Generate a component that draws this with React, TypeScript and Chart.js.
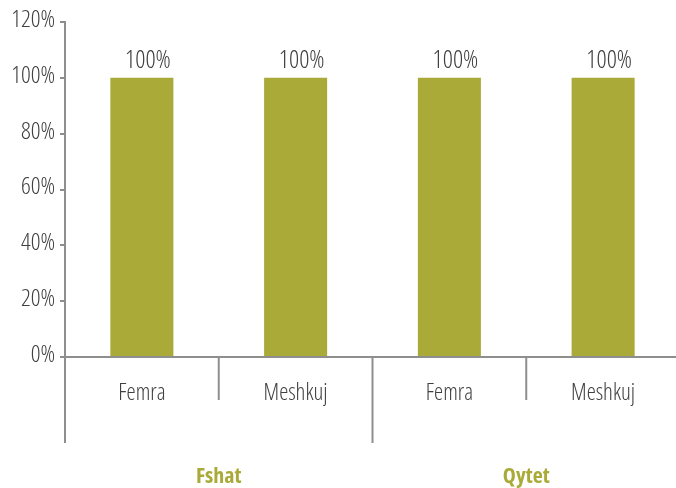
import React, { useEffect, useRef } from "react";
import { Chart, registerables } from "chart.js";

Chart.register(...registerables);

const categories = ["Femra", "Meshkuj", "Femra", "Meshkuj"];
const values = [100, 100, 100, 100];
const groups = ["Fshat", "Qytet"];
const groupSize = 2;

const OLIVE = "#a9aa38";
const AXIS = "#8e8e8e";
const TEXT = "#404040";
const FONT = "'Open Sans', 'DejaVu Sans Condensed', sans-serif";

const overlay = {
  id: "overlay",
  afterDraw(chart: any) {
    const ctx = chart.ctx;
    const xs = chart.scales.x;
    const area = chart.chartArea;
    ctx.save();
    // value labels
    const meta = chart.getDatasetMeta(0);
    ctx.fillStyle = TEXT;
    ctx.font = `300 condensed 25px ${FONT}`;
    ctx.textAlign = "center";
    ctx.textBaseline = "alphabetic";
    meta.data.forEach((bar: any, i: number) => {
      ctx.fillText(values[i] + "%", bar.x + 6, bar.y - 10);
    });
    // separators
    ctx.strokeStyle = AXIS;
    ctx.lineWidth = 2;
    const n = categories.length;
    for (let i = 0; i <= n; i++) {
      let x: number;
      if (i === 0) x = area.left;
      else if (i === n) x = area.right;
      else x = (xs.getPixelForValue(i - 1) + xs.getPixelForValue(i)) / 2;
      const len = i % groupSize === 0 ? 86 : 43;
      ctx.beginPath();
      ctx.moveTo(x, area.bottom);
      ctx.lineTo(x, area.bottom + len);
      ctx.stroke();
    }
    // group labels
    ctx.fillStyle = OLIVE;
    ctx.font = `bold condensed 22px ${FONT}`;
    ctx.textBaseline = "middle";
    groups.forEach((g, gi) => {
      const a = xs.getPixelForValue(gi * groupSize);
      const b = xs.getPixelForValue(gi * groupSize + groupSize - 1);
      ctx.fillText(g, (a + b) / 2, area.bottom + 120);
    });
    ctx.restore();
  },
};

export default function App() {
  const ref = useRef<HTMLCanvasElement>(null);
  useEffect(() => {
    if (!ref.current) return;
    const chart = new Chart(ref.current, {
      type: "bar",
      data: {
        labels: categories,
        datasets: [
          {
            data: values,
            backgroundColor: OLIVE,
            barPercentage: 0.41,
            categoryPercentage: 1,
          },
        ],
      },
      options: {
        responsive: false,
        animation: false,
        devicePixelRatio: 1,
        layout: { padding: { top: 22, right: 0, left: 0, bottom: 0 } },
        plugins: { legend: { display: false }, tooltip: { enabled: false }, title: { display: false } },
        scales: {
          x: {
            grid: { display: false, drawTicks: false, tickLength: 0 },
            border: { display: true, color: AXIS, width: 2 },
            ticks: { color: TEXT, font: { family: FONT, size: 23, weight: "300 condensed" as any }, padding: 23 },
            afterFit: (s: any) => { s.height = 131; },
          },
          y: {
            min: 0,
            max: 120,
            ticks: {
              stepSize: 20,
              color: TEXT,
              font: { family: FONT, size: 24, weight: "300 condensed" as any },
              padding: 5,
              labelOffset: -2,
              callback: (v: any) => v + "%",
            },
            grid: { display: true, drawOnChartArea: false, drawTicks: true, tickLength: 5, color: AXIS, lineWidth: 2 },
            border: { display: true, color: AXIS, width: 2 },
            afterFit: (s: any) => { s.width = 65; },
          },
        },
      },
      plugins: [overlay],
    });
    return () => chart.destroy();
  }, []);
  return (
    <div style={{ position: "absolute", left: 0, top: 0, width: 676, height: 488, overflow: "hidden", background: "#fff" }}>
      <canvas ref={ref} width={680} height={488} style={{ width: 680, height: 488, display: "block" }} />
    </div>
  );
}
